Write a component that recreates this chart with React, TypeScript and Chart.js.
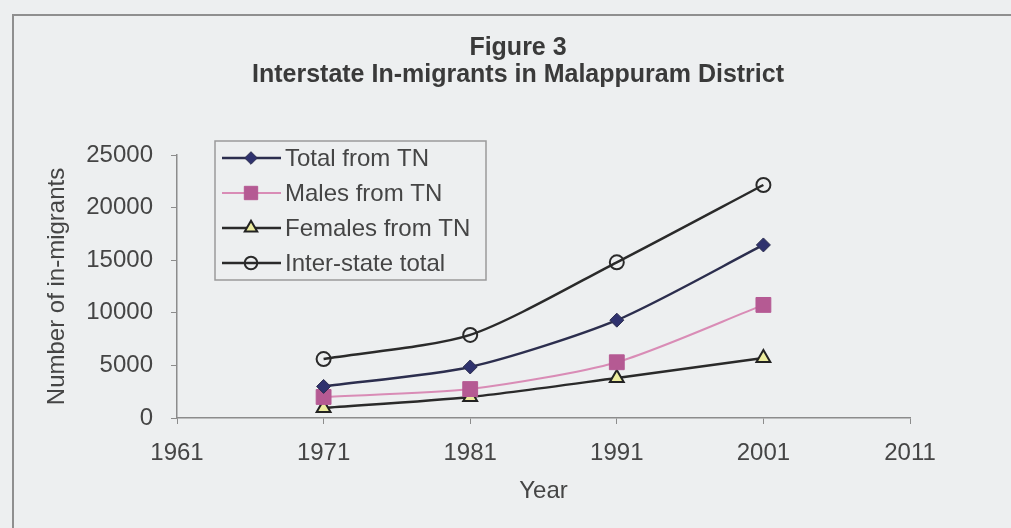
import React, { useEffect, useRef } from "react";
import { Chart, registerables } from "chart.js";

Chart.register(...registerables);

const years = [1971, 1981, 1991, 2001];
const totalFromTN = [3000, 4850, 9300, 16450];
const malesFromTN = [2000, 2750, 5300, 10750];
const femalesFromTN = [950, 2000, 3800, 5700];
const interStateTotal = [5600, 7900, 14800, 22150];

const seriesLabels = ["Total from TN", "Males from TN", "Females from TN", "Inter-state total"];
const titleLines = ["Figure 3", "Interstate In-migrants in Malappuram District"];
const xTitle = "Year";
const yTitle = "Number of in-migrants";

const FONT = 'Arial, "Liberation Sans", sans-serif';
const BG = "#edeff0";

const toPoints = (vals: number[]) => years.map((x, i) => ({ x, y: vals[i] }));

function drawMarker(ctx: CanvasRenderingContext2D, style: string, x: number, y: number, r: number) {
  ctx.beginPath();
  if (style === "rectRot") {
    ctx.moveTo(x, y - r);
    ctx.lineTo(x + r, y);
    ctx.lineTo(x, y + r);
    ctx.lineTo(x - r, y);
    ctx.closePath();
  } else if (style === "rect") {
    const s = r * Math.SQRT1_2;
    ctx.rect(x - s, y - s, 2 * s, 2 * s);
  } else if (style === "triangle") {
    ctx.moveTo(x, y - r);
    ctx.lineTo(x + r * Math.sin((2 * Math.PI) / 3), y - r * Math.cos((2 * Math.PI) / 3));
    ctx.lineTo(x - r * Math.sin((2 * Math.PI) / 3), y - r * Math.cos((2 * Math.PI) / 3));
    ctx.closePath();
  } else {
    ctx.arc(x, y, r, 0, Math.PI * 2);
  }
  ctx.fill();
  ctx.stroke();
}

const decorPlugin = {
  id: "decor",
  afterDraw(chart: any) {
    const ctx = chart.ctx as CanvasRenderingContext2D;
    ctx.save();
    // title
    ctx.fillStyle = "#3a3a3a";
    ctx.font = `bold 25px ${FONT}`;
    ctx.textAlign = "center";
    ctx.textBaseline = "middle";
    ctx.fillText(titleLines[0], 518, 48);
    ctx.fillText(titleLines[1], 518, 75);
    // legend
    const boxL = 215, boxT = 141, boxR = 486, boxB = 280;
    ctx.fillStyle = BG;
    ctx.fillRect(boxL, boxT, boxR - boxL, boxB - boxT);
    ctx.strokeStyle = "#9a9a9a";
    ctx.lineWidth = 1.5;
    ctx.strokeRect(boxL, boxT, boxR - boxL, boxB - boxT);
    const rows = [158, 193, 228, 263];
    chart.data.datasets.forEach((ds: any, i: number) => {
      const y = rows[i];
      ctx.beginPath();
      ctx.strokeStyle = ds.borderColor;
      ctx.lineWidth = ds.borderWidth;
      ctx.moveTo(222, y);
      ctx.lineTo(281, y);
      ctx.stroke();
      ctx.fillStyle = ds.pointBackgroundColor;
      ctx.strokeStyle = ds.pointBorderColor;
      ctx.lineWidth = ds.pointBorderWidth;
      drawMarker(ctx, ds.pointStyle, 251, y, ds.pointRadius * 0.9);
      ctx.fillStyle = "#454545";
      ctx.font = `24px ${FONT}`;
      ctx.textBaseline = "middle";
      ctx.textAlign = "left";
      ctx.fillText(ds.label, 285, y + 1);
    });
    ctx.restore();
  },
};

export default function App() {
  const ref = useRef<HTMLCanvasElement | null>(null);
  useEffect(() => {
    if (!ref.current) return;
    const chart = new Chart(ref.current, {
      type: "line",
      data: {
        datasets: [
          {
            label: seriesLabels[0],
            data: toPoints(totalFromTN),
            borderColor: "#2c2e4e",
            borderWidth: 2.5,
            pointStyle: "rectRot",
            pointRadius: 7,
            pointBackgroundColor: "#2f326e",
            pointBorderColor: "#2c2e4e",
            pointBorderWidth: 1,
            tension: 0.25,
          },
          {
            label: seriesLabels[1],
            data: toPoints(malesFromTN),
            borderColor: "#d98cb6",
            borderWidth: 2,
            pointStyle: "rect",
            pointRadius: 10.5,
            pointBackgroundColor: "#b55a93",
            pointBorderColor: "#b55a93",
            pointBorderWidth: 1,
            tension: 0.25,
          },
          {
            label: seriesLabels[2],
            data: toPoints(femalesFromTN),
            borderColor: "#2a2a2a",
            borderWidth: 2.5,
            pointStyle: "triangle",
            pointRadius: 8,
            pointBackgroundColor: "#ecec9e",
            pointBorderColor: "#222222",
            pointBorderWidth: 2,
            tension: 0.25,
          },
          {
            label: seriesLabels[3],
            data: toPoints(interStateTotal),
            borderColor: "#2a2a2a",
            borderWidth: 2.5,
            pointStyle: "circle",
            pointRadius: 7,
            pointBackgroundColor: "rgba(0,0,0,0)",
            pointBorderColor: "#2a2a2a",
            pointBorderWidth: 2,
            tension: 0.25,
          },
        ],
      },
      options: {
        animation: false,
        responsive: false,
        maintainAspectRatio: false,
        layout: { padding: { left: 0, right: 101, top: 155, bottom: 0 } },
        plugins: {
          legend: { display: false },
          tooltip: { enabled: false },
          title: { display: false },
        },
        scales: {
          x: {
            type: "linear",
            min: 1961,
            max: 2011,
            ticks: {
              stepSize: 10,
              color: "#454545",
              font: { family: FONT, size: 24 },
              padding: 15,
              callback: (v: any) => String(v),
            },
            grid: { drawOnChartArea: false, drawTicks: true, tickLength: 6, color: "#8c8c8c" },
            border: { color: "#8c8c8c", width: 1.5 },
            title: {
              display: true,
              text: xTitle,
              color: "#454545",
              font: { family: FONT, size: 24 },
              padding: { top: 0, bottom: 22 },
            },
            afterFit: (s: any) => {
              s.height = 110;
            },
          },
          y: {
            min: 0,
            max: 25000,
            ticks: {
              stepSize: 5000,
              color: "#454545",
              font: { family: FONT, size: 24 },
              padding: 18,
              callback: (v: any) => String(v),
            },
            grid: { drawOnChartArea: false, drawTicks: true, tickLength: 6, color: "#8c8c8c" },
            border: { color: "#8c8c8c", width: 1.5 },
            title: {
              display: true,
              text: yTitle,
              color: "#454545",
              font: { family: FONT, size: 24 },
              padding: { top: 43, bottom: 0 },
            },
            afterFit: (s: any) => {
              s.width = 177;
            },
          },
        },
      },
      plugins: [decorPlugin],
    });
    return () => chart.destroy();
  }, []);

  return (
    <div style={{ position: "fixed", left: 0, top: 0, width: 1011, height: 528, background: BG, overflow: "hidden" }}>
      <div
        style={{
          position: "absolute",
          left: 12,
          top: 14,
          width: 1100,
          height: 600,
          borderLeft: "2px solid #8f8f8f",
          borderTop: "2px solid #8f8f8f",
        }}
      />
      <canvas ref={ref} width={1011} height={528} style={{ position: "absolute", left: 0, top: 0, width: 1011, height: 528 }} />
    </div>
  );
}
